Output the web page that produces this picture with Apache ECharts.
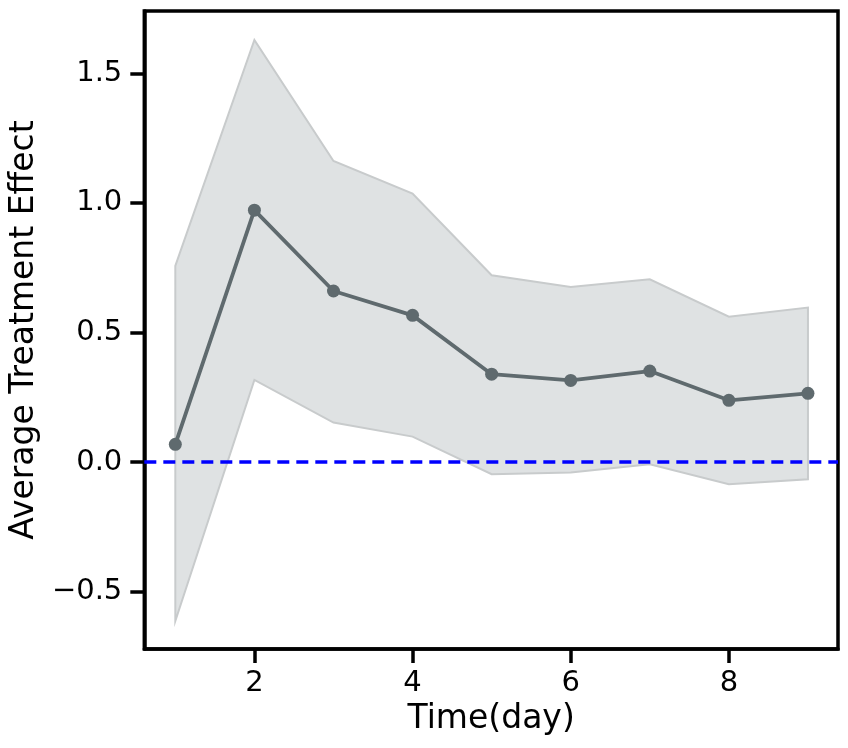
<!DOCTYPE html>
<html>
<head>
<meta charset="utf-8">
<script src="https://cdn.jsdelivr.net/npm/echarts@6/dist/echarts.min.js"></script>
<style>html,body{margin:0;padding:0;background:#fff}#c{width:848px;height:748px}</style>
</head>
<body>
<div id="c"></div>
<script>
const days = [1, 2, 3, 4, 5, 6, 7, 8, 9];
const effect = [0.068, 0.972, 0.660, 0.566, 0.339, 0.315, 0.351, 0.238, 0.265];
const upper = [0.757, 1.629, 1.162, 1.036, 0.721, 0.676, 0.705, 0.561, 0.596];
const lower = [-0.614, 0.317, 0.152, 0.098, -0.047, -0.041, -0.009, -0.086, -0.067];
const xTicks = [2, 4, 6, 8];
const yTicks = [-0.5, 0.0, 0.5, 1.0, 1.5];

const chart = echarts.init(document.getElementById('c'), null, {renderer: 'canvas'});
const font = 'DejaVu Sans';
const bandData = days.map((d, i) => [d, lower[i], upper[i]]);

chart.setOption({
  animation: false,
  backgroundColor: '#fff',
  grid: {left: 144, right: 10, top: 11, bottom: 99, show: true, borderColor: '#000', borderWidth: 3.5, backgroundColor: 'transparent'},
  xAxis: {
    type: 'value', min: 0.608, max: 9.38,
    name: 'Time(day)', nameLocation: 'middle', nameGap: 53,
    nameTextStyle: {fontFamily: font, fontSize: 33, color: '#000'},
    axisLine: {show: true, onZero: false, lineStyle: {color: '#000', width: 3.5}},
    axisTick: {show: true, length: 14, lineStyle: {color: '#000', width: 3.5}, customValues: xTicks},
    axisLabel: {fontFamily: font, fontSize: 29, color: '#000', margin: 20, customValues: xTicks, formatter: v => String(v)},
    splitLine: {show: false}
  },
  yAxis: {
    type: 'value', min: -0.722, max: 1.741,
    name: 'Average Treatment Effect', nameLocation: 'middle', nameGap: 100,
    nameTextStyle: {fontFamily: font, fontSize: 33, color: '#000'},
    axisLine: {show: true, onZero: false, lineStyle: {color: '#000', width: 3.5}},
    axisTick: {show: true, length: 14, lineStyle: {color: '#000', width: 3.5}, customValues: yTicks},
    axisLabel: {fontFamily: font, fontSize: 29, color: '#000', margin: 22, customValues: yTicks,
      formatter: v => (v < 0 ? '\u2212' : '') + Math.abs(v).toFixed(1)},
    splitLine: {show: false}
  },
  series: [
    {
      type: 'custom',
      data: bandData,
      silent: true,
      z: 1,
      renderItem: function (params, api) {
        if (params.dataIndex !== 0) return null;
        const pts = [];
        for (let i = 0; i < bandData.length; i++) pts.push(api.coord([bandData[i][0], bandData[i][2]]));
        for (let i = bandData.length - 1; i >= 0; i--) pts.push(api.coord([bandData[i][0], bandData[i][1]]));
        return {type: 'polygon', shape: {points: pts}, style: {fill: '#dfe2e3', stroke: '#c8cbcc', lineWidth: 2}};
      }
    },
    {
      type: 'line',
      data: days.map((d, i) => [d, effect[i]]),
      symbol: 'circle', symbolSize: 13,
      lineStyle: {color: '#5f6a6e', width: 3.8},
      itemStyle: {color: '#5f6a6e'},
      z: 3,
      markLine: {
        silent: true, symbol: 'none', label: {show: false},
        lineStyle: {color: '#0000ff', width: 3.5, type: [12, 7]},
        data: [{yAxis: 0}]
      }
    }
  ]
});
</script>
</body>
</html>
